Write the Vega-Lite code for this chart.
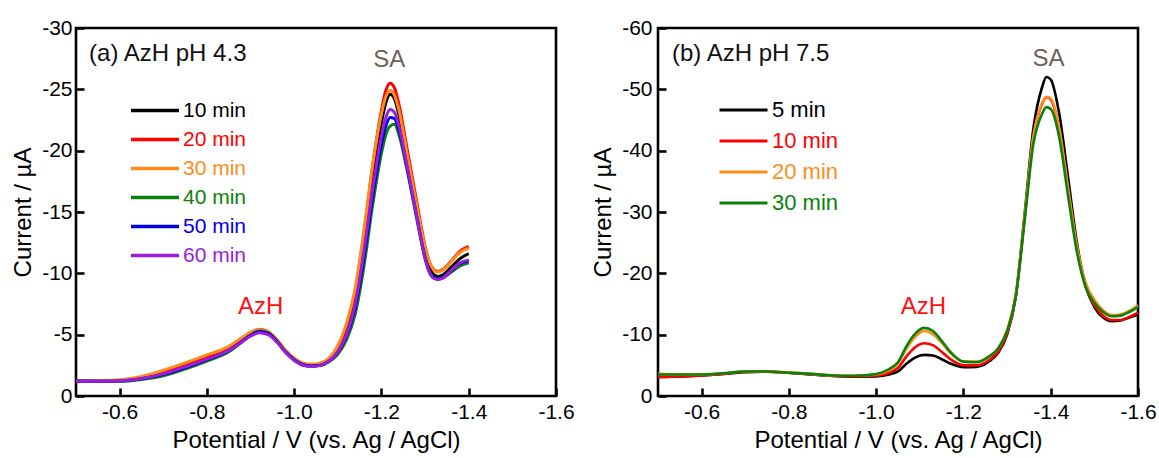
{
"$schema": "https://vega.github.io/schema/vega-lite/v6.json",
"padding": {"left": 10, "top": 15, "right": 5, "bottom": 5},
"spacing": 14,
"datasets": {
"a": [
{"t":"10 min","V":-0.50,"I":-1.22},{"t":"10 min","V":-0.55,"I":-1.22},{"t":"10 min","V":-0.60,"I":-1.25},{"t":"10 min","V":-0.65,"I":-1.45},{"t":"10 min","V":-0.70,"I":-1.85},{"t":"10 min","V":-0.75,"I":-2.45},{"t":"10 min","V":-0.80,"I":-3.05},{"t":"10 min","V":-0.85,"I":-3.8},{"t":"10 min","V":-0.88,"I":-4.55},{"t":"10 min","V":-0.90,"I":-5.05},{"t":"10 min","V":-0.92,"I":-5.35},{"t":"10 min","V":-0.94,"I":-5.15},{"t":"10 min","V":-0.96,"I":-4.5},{"t":"10 min","V":-0.98,"I":-3.65},{"t":"10 min","V":-1.00,"I":-3.0},{"t":"10 min","V":-1.02,"I":-2.6},{"t":"10 min","V":-1.04,"I":-2.5},{"t":"10 min","V":-1.06,"I":-2.6},{"t":"10 min","V":-1.08,"I":-2.95},{"t":"10 min","V":-1.10,"I":-3.8},{"t":"10 min","V":-1.12,"I":-5.4},{"t":"10 min","V":-1.14,"I":-8.0},{"t":"10 min","V":-1.16,"I":-12.5},{"t":"10 min","V":-1.18,"I":-17.8},{"t":"10 min","V":-1.20,"I":-22.3},{"t":"10 min","V":-1.21,"I":-23.9},{"t":"10 min","V":-1.22,"I":-24.6},{"t":"10 min","V":-1.23,"I":-24.2},{"t":"10 min","V":-1.24,"I":-22.9},{"t":"10 min","V":-1.26,"I":-19.0},{"t":"10 min","V":-1.28,"I":-15.2},{"t":"10 min","V":-1.30,"I":-11.6},{"t":"10 min","V":-1.31,"I":-10.4},{"t":"10 min","V":-1.32,"I":-9.9},{"t":"10 min","V":-1.33,"I":-9.75},{"t":"10 min","V":-1.34,"I":-9.85},{"t":"10 min","V":-1.36,"I":-10.5},{"t":"10 min","V":-1.38,"I":-11.2},{"t":"10 min","V":-1.40,"I":-11.6},
{"t":"20 min","V":-0.50,"I":-1.22},{"t":"20 min","V":-0.55,"I":-1.23},{"t":"20 min","V":-0.60,"I":-1.27},{"t":"20 min","V":-0.65,"I":-1.5},{"t":"20 min","V":-0.70,"I":-1.95},{"t":"20 min","V":-0.75,"I":-2.55},{"t":"20 min","V":-0.80,"I":-3.15},{"t":"20 min","V":-0.85,"I":-3.9},{"t":"20 min","V":-0.88,"I":-4.65},{"t":"20 min","V":-0.90,"I":-5.15},{"t":"20 min","V":-0.92,"I":-5.45},{"t":"20 min","V":-0.94,"I":-5.25},{"t":"20 min","V":-0.96,"I":-4.6},{"t":"20 min","V":-0.98,"I":-3.7},{"t":"20 min","V":-1.00,"I":-3.05},{"t":"20 min","V":-1.02,"I":-2.65},{"t":"20 min","V":-1.04,"I":-2.55},{"t":"20 min","V":-1.06,"I":-2.65},{"t":"20 min","V":-1.08,"I":-3.05},{"t":"20 min","V":-1.10,"I":-4.0},{"t":"20 min","V":-1.12,"I":-5.8},{"t":"20 min","V":-1.14,"I":-8.6},{"t":"20 min","V":-1.16,"I":-13.3},{"t":"20 min","V":-1.18,"I":-18.8},{"t":"20 min","V":-1.20,"I":-23.3},{"t":"20 min","V":-1.21,"I":-24.9},{"t":"20 min","V":-1.22,"I":-25.5},{"t":"20 min","V":-1.23,"I":-25.1},{"t":"20 min","V":-1.24,"I":-23.8},{"t":"20 min","V":-1.26,"I":-19.9},{"t":"20 min","V":-1.28,"I":-16.0},{"t":"20 min","V":-1.30,"I":-12.2},{"t":"20 min","V":-1.31,"I":-10.9},{"t":"20 min","V":-1.32,"I":-10.3},{"t":"20 min","V":-1.33,"I":-10.15},{"t":"20 min","V":-1.34,"I":-10.3},{"t":"20 min","V":-1.36,"I":-11.0},{"t":"20 min","V":-1.38,"I":-11.8},{"t":"20 min","V":-1.40,"I":-12.2},
{"t":"30 min","V":-0.50,"I":-1.22},{"t":"30 min","V":-0.55,"I":-1.25},{"t":"30 min","V":-0.60,"I":-1.32},{"t":"30 min","V":-0.65,"I":-1.6},{"t":"30 min","V":-0.70,"I":-2.1},{"t":"30 min","V":-0.75,"I":-2.7},{"t":"30 min","V":-0.80,"I":-3.35},{"t":"30 min","V":-0.85,"I":-4.05},{"t":"30 min","V":-0.88,"I":-4.75},{"t":"30 min","V":-0.90,"I":-5.2},{"t":"30 min","V":-0.92,"I":-5.42},{"t":"30 min","V":-0.94,"I":-5.22},{"t":"30 min","V":-0.96,"I":-4.6},{"t":"30 min","V":-0.98,"I":-3.75},{"t":"30 min","V":-1.00,"I":-3.1},{"t":"30 min","V":-1.02,"I":-2.7},{"t":"30 min","V":-1.04,"I":-2.6},{"t":"30 min","V":-1.06,"I":-2.7},{"t":"30 min","V":-1.08,"I":-3.1},{"t":"30 min","V":-1.10,"I":-4.1},{"t":"30 min","V":-1.12,"I":-5.9},{"t":"30 min","V":-1.14,"I":-8.8},{"t":"30 min","V":-1.16,"I":-13.5},{"t":"30 min","V":-1.18,"I":-18.9},{"t":"30 min","V":-1.20,"I":-23.0},{"t":"30 min","V":-1.21,"I":-24.4},{"t":"30 min","V":-1.22,"I":-24.9},{"t":"30 min","V":-1.23,"I":-24.5},{"t":"30 min","V":-1.24,"I":-23.3},{"t":"30 min","V":-1.26,"I":-19.5},{"t":"30 min","V":-1.28,"I":-15.7},{"t":"30 min","V":-1.30,"I":-12.1},{"t":"30 min","V":-1.31,"I":-10.9},{"t":"30 min","V":-1.32,"I":-10.3},{"t":"30 min","V":-1.33,"I":-10.1},{"t":"30 min","V":-1.34,"I":-10.25},{"t":"30 min","V":-1.36,"I":-10.95},{"t":"30 min","V":-1.38,"I":-11.7},{"t":"30 min","V":-1.40,"I":-12.05},
{"t":"40 min","V":-0.50,"I":-1.2},{"t":"40 min","V":-0.55,"I":-1.2},{"t":"40 min","V":-0.60,"I":-1.2},{"t":"40 min","V":-0.65,"I":-1.35},{"t":"40 min","V":-0.70,"I":-1.65},{"t":"40 min","V":-0.75,"I":-2.2},{"t":"40 min","V":-0.80,"I":-2.85},{"t":"40 min","V":-0.85,"I":-3.6},{"t":"40 min","V":-0.88,"I":-4.4},{"t":"40 min","V":-0.90,"I":-4.95},{"t":"40 min","V":-0.92,"I":-5.3},{"t":"40 min","V":-0.94,"I":-5.15},{"t":"40 min","V":-0.96,"I":-4.5},{"t":"40 min","V":-0.98,"I":-3.6},{"t":"40 min","V":-1.00,"I":-2.95},{"t":"40 min","V":-1.02,"I":-2.55},{"t":"40 min","V":-1.04,"I":-2.45},{"t":"40 min","V":-1.06,"I":-2.5},{"t":"40 min","V":-1.08,"I":-2.8},{"t":"40 min","V":-1.10,"I":-3.4},{"t":"40 min","V":-1.12,"I":-4.6},{"t":"40 min","V":-1.14,"I":-6.7},{"t":"40 min","V":-1.16,"I":-10.6},{"t":"40 min","V":-1.18,"I":-15.6},{"t":"40 min","V":-1.20,"I":-19.8},{"t":"40 min","V":-1.21,"I":-21.3},{"t":"40 min","V":-1.22,"I":-22.0},{"t":"40 min","V":-1.23,"I":-22.15},{"t":"40 min","V":-1.24,"I":-21.3},{"t":"40 min","V":-1.26,"I":-18.2},{"t":"40 min","V":-1.28,"I":-14.6},{"t":"40 min","V":-1.30,"I":-11.2},{"t":"40 min","V":-1.31,"I":-10.1},{"t":"40 min","V":-1.32,"I":-9.6},{"t":"40 min","V":-1.33,"I":-9.5},{"t":"40 min","V":-1.34,"I":-9.6},{"t":"40 min","V":-1.36,"I":-10.1},{"t":"40 min","V":-1.38,"I":-10.6},{"t":"40 min","V":-1.40,"I":-10.85},
{"t":"50 min","V":-0.50,"I":-1.2},{"t":"50 min","V":-0.55,"I":-1.2},{"t":"50 min","V":-0.60,"I":-1.22},{"t":"50 min","V":-0.65,"I":-1.4},{"t":"50 min","V":-0.70,"I":-1.75},{"t":"50 min","V":-0.75,"I":-2.3},{"t":"50 min","V":-0.80,"I":-2.95},{"t":"50 min","V":-0.85,"I":-3.7},{"t":"50 min","V":-0.88,"I":-4.45},{"t":"50 min","V":-0.90,"I":-4.95},{"t":"50 min","V":-0.92,"I":-5.25},{"t":"50 min","V":-0.94,"I":-5.1},{"t":"50 min","V":-0.96,"I":-4.45},{"t":"50 min","V":-0.98,"I":-3.6},{"t":"50 min","V":-1.00,"I":-2.95},{"t":"50 min","V":-1.02,"I":-2.55},{"t":"50 min","V":-1.04,"I":-2.45},{"t":"50 min","V":-1.06,"I":-2.5},{"t":"50 min","V":-1.08,"I":-2.85},{"t":"50 min","V":-1.10,"I":-3.55},{"t":"50 min","V":-1.12,"I":-4.9},{"t":"50 min","V":-1.14,"I":-7.2},{"t":"50 min","V":-1.16,"I":-11.3},{"t":"50 min","V":-1.18,"I":-16.3},{"t":"50 min","V":-1.20,"I":-20.5},{"t":"50 min","V":-1.21,"I":-22.0},{"t":"50 min","V":-1.22,"I":-22.7},{"t":"50 min","V":-1.23,"I":-22.6},{"t":"50 min","V":-1.24,"I":-21.7},{"t":"50 min","V":-1.26,"I":-18.4},{"t":"50 min","V":-1.28,"I":-14.8},{"t":"50 min","V":-1.30,"I":-11.3},{"t":"50 min","V":-1.31,"I":-10.15},{"t":"50 min","V":-1.32,"I":-9.65},{"t":"50 min","V":-1.33,"I":-9.55},{"t":"50 min","V":-1.34,"I":-9.65},{"t":"50 min","V":-1.36,"I":-10.2},{"t":"50 min","V":-1.38,"I":-10.8},{"t":"50 min","V":-1.40,"I":-11.0},
{"t":"60 min","V":-0.50,"I":-1.2},{"t":"60 min","V":-0.55,"I":-1.2},{"t":"60 min","V":-0.60,"I":-1.23},{"t":"60 min","V":-0.65,"I":-1.42},{"t":"60 min","V":-0.70,"I":-1.8},{"t":"60 min","V":-0.75,"I":-2.38},{"t":"60 min","V":-0.80,"I":-3.0},{"t":"60 min","V":-0.85,"I":-3.72},{"t":"60 min","V":-0.88,"I":-4.4},{"t":"60 min","V":-0.90,"I":-4.88},{"t":"60 min","V":-0.92,"I":-5.15},{"t":"60 min","V":-0.94,"I":-5.0},{"t":"60 min","V":-0.96,"I":-4.4},{"t":"60 min","V":-0.98,"I":-3.55},{"t":"60 min","V":-1.00,"I":-2.9},{"t":"60 min","V":-1.02,"I":-2.5},{"t":"60 min","V":-1.04,"I":-2.4},{"t":"60 min","V":-1.06,"I":-2.5},{"t":"60 min","V":-1.08,"I":-2.85},{"t":"60 min","V":-1.10,"I":-3.6},{"t":"60 min","V":-1.12,"I":-5.0},{"t":"60 min","V":-1.14,"I":-7.5},{"t":"60 min","V":-1.16,"I":-11.8},{"t":"60 min","V":-1.18,"I":-16.9},{"t":"60 min","V":-1.20,"I":-21.2},{"t":"60 min","V":-1.21,"I":-22.7},{"t":"60 min","V":-1.22,"I":-23.35},{"t":"60 min","V":-1.23,"I":-23.1},{"t":"60 min","V":-1.24,"I":-22.0},{"t":"60 min","V":-1.26,"I":-18.5},{"t":"60 min","V":-1.28,"I":-14.8},{"t":"60 min","V":-1.30,"I":-11.2},{"t":"60 min","V":-1.31,"I":-10.05},{"t":"60 min","V":-1.32,"I":-9.6},{"t":"60 min","V":-1.33,"I":-9.5},{"t":"60 min","V":-1.34,"I":-9.6},{"t":"60 min","V":-1.36,"I":-10.25},{"t":"60 min","V":-1.38,"I":-10.85},{"t":"60 min","V":-1.40,"I":-11.1}
],
"b": [
{"t":"5 min","V":-0.50,"I":-3.1},{"t":"5 min","V":-0.55,"I":-3.2},{"t":"5 min","V":-0.60,"I":-3.35},{"t":"5 min","V":-0.65,"I":-3.6},{"t":"5 min","V":-0.70,"I":-3.9},{"t":"5 min","V":-0.75,"I":-3.95},{"t":"5 min","V":-0.80,"I":-3.8},{"t":"5 min","V":-0.85,"I":-3.5},{"t":"5 min","V":-0.90,"I":-3.25},{"t":"5 min","V":-0.95,"I":-3.15},{"t":"5 min","V":-1.00,"I":-3.2},{"t":"5 min","V":-1.03,"I":-3.5},{"t":"5 min","V":-1.05,"I":-4.0},{"t":"5 min","V":-1.07,"I":-5.3},{"t":"5 min","V":-1.09,"I":-6.3},{"t":"5 min","V":-1.11,"I":-6.7},{"t":"5 min","V":-1.13,"I":-6.6},{"t":"5 min","V":-1.15,"I":-6.0},{"t":"5 min","V":-1.17,"I":-5.3},{"t":"5 min","V":-1.20,"I":-4.7},{"t":"5 min","V":-1.23,"I":-4.75},{"t":"5 min","V":-1.26,"I":-5.7},{"t":"5 min","V":-1.28,"I":-7.1},{"t":"5 min","V":-1.30,"I":-10.0},{"t":"5 min","V":-1.32,"I":-16.3},{"t":"5 min","V":-1.34,"I":-29.5},{"t":"5 min","V":-1.36,"I":-43.5},{"t":"5 min","V":-1.38,"I":-50.3},{"t":"5 min","V":-1.39,"I":-52.0},{"t":"5 min","V":-1.40,"I":-51.6},{"t":"5 min","V":-1.42,"I":-45.8},{"t":"5 min","V":-1.44,"I":-35.5},{"t":"5 min","V":-1.46,"I":-25.0},{"t":"5 min","V":-1.48,"I":-18.0},{"t":"5 min","V":-1.50,"I":-14.5},{"t":"5 min","V":-1.52,"I":-12.8},{"t":"5 min","V":-1.54,"I":-12.2},{"t":"5 min","V":-1.56,"I":-12.3},{"t":"5 min","V":-1.58,"I":-12.8},{"t":"5 min","V":-1.60,"I":-13.3},
{"t":"10 min","V":-0.50,"I":-3.1},{"t":"10 min","V":-0.55,"I":-3.2},{"t":"10 min","V":-0.60,"I":-3.35},{"t":"10 min","V":-0.65,"I":-3.6},{"t":"10 min","V":-0.70,"I":-3.95},{"t":"10 min","V":-0.75,"I":-3.95},{"t":"10 min","V":-0.80,"I":-3.8},{"t":"10 min","V":-0.85,"I":-3.55},{"t":"10 min","V":-0.90,"I":-3.3},{"t":"10 min","V":-0.95,"I":-3.2},{"t":"10 min","V":-1.00,"I":-3.3},{"t":"10 min","V":-1.03,"I":-3.8},{"t":"10 min","V":-1.05,"I":-4.6},{"t":"10 min","V":-1.07,"I":-6.5},{"t":"10 min","V":-1.09,"I":-8.0},{"t":"10 min","V":-1.11,"I":-8.6},{"t":"10 min","V":-1.13,"I":-8.3},{"t":"10 min","V":-1.15,"I":-7.2},{"t":"10 min","V":-1.17,"I":-6.0},{"t":"10 min","V":-1.20,"I":-5.0},{"t":"10 min","V":-1.23,"I":-5.0},{"t":"10 min","V":-1.26,"I":-5.9},{"t":"10 min","V":-1.28,"I":-7.3},{"t":"10 min","V":-1.30,"I":-10.2},{"t":"10 min","V":-1.32,"I":-16.2},{"t":"10 min","V":-1.34,"I":-28.8},{"t":"10 min","V":-1.36,"I":-42.0},{"t":"10 min","V":-1.38,"I":-47.6},{"t":"10 min","V":-1.39,"I":-48.7},{"t":"10 min","V":-1.40,"I":-48.3},{"t":"10 min","V":-1.42,"I":-43.2},{"t":"10 min","V":-1.44,"I":-33.5},{"t":"10 min","V":-1.46,"I":-24.0},{"t":"10 min","V":-1.48,"I":-17.8},{"t":"10 min","V":-1.50,"I":-14.8},{"t":"10 min","V":-1.52,"I":-13.1},{"t":"10 min","V":-1.54,"I":-12.4},{"t":"10 min","V":-1.56,"I":-12.4},{"t":"10 min","V":-1.58,"I":-12.9},{"t":"10 min","V":-1.60,"I":-13.6},
{"t":"20 min","V":-0.50,"I":-3.6},{"t":"20 min","V":-0.55,"I":-3.5},{"t":"20 min","V":-0.60,"I":-3.5},{"t":"20 min","V":-0.65,"I":-3.7},{"t":"20 min","V":-0.70,"I":-4.0},{"t":"20 min","V":-0.75,"I":-4.0},{"t":"20 min","V":-0.80,"I":-3.85},{"t":"20 min","V":-0.85,"I":-3.6},{"t":"20 min","V":-0.90,"I":-3.35},{"t":"20 min","V":-0.95,"I":-3.3},{"t":"20 min","V":-1.00,"I":-3.5},{"t":"20 min","V":-1.03,"I":-4.2},{"t":"20 min","V":-1.05,"I":-5.3},{"t":"20 min","V":-1.07,"I":-7.8},{"t":"20 min","V":-1.09,"I":-9.7},{"t":"20 min","V":-1.11,"I":-10.6},{"t":"20 min","V":-1.13,"I":-10.1},{"t":"20 min","V":-1.15,"I":-8.7},{"t":"20 min","V":-1.17,"I":-7.0},{"t":"20 min","V":-1.20,"I":-5.6},{"t":"20 min","V":-1.23,"I":-5.6},{"t":"20 min","V":-1.26,"I":-6.5},{"t":"20 min","V":-1.28,"I":-7.8},{"t":"20 min","V":-1.30,"I":-10.7},{"t":"20 min","V":-1.32,"I":-16.6},{"t":"20 min","V":-1.34,"I":-29.2},{"t":"20 min","V":-1.36,"I":-42.3},{"t":"20 min","V":-1.38,"I":-47.7},{"t":"20 min","V":-1.39,"I":-48.8},{"t":"20 min","V":-1.40,"I":-48.5},{"t":"20 min","V":-1.42,"I":-43.5},{"t":"20 min","V":-1.44,"I":-33.8},{"t":"20 min","V":-1.46,"I":-24.5},{"t":"20 min","V":-1.48,"I":-18.5},{"t":"20 min","V":-1.50,"I":-15.7},{"t":"20 min","V":-1.52,"I":-14.0},{"t":"20 min","V":-1.54,"I":-13.2},{"t":"20 min","V":-1.56,"I":-13.3},{"t":"20 min","V":-1.58,"I":-13.9},{"t":"20 min","V":-1.60,"I":-14.8},
{"t":"30 min","V":-0.50,"I":-3.5},{"t":"30 min","V":-0.55,"I":-3.5},{"t":"30 min","V":-0.60,"I":-3.5},{"t":"30 min","V":-0.65,"I":-3.7},{"t":"30 min","V":-0.70,"I":-4.0},{"t":"30 min","V":-0.75,"I":-4.0},{"t":"30 min","V":-0.80,"I":-3.8},{"t":"30 min","V":-0.85,"I":-3.6},{"t":"30 min","V":-0.90,"I":-3.35},{"t":"30 min","V":-0.95,"I":-3.3},{"t":"30 min","V":-1.00,"I":-3.6},{"t":"30 min","V":-1.03,"I":-4.4},{"t":"30 min","V":-1.05,"I":-5.5},{"t":"30 min","V":-1.07,"I":-8.2},{"t":"30 min","V":-1.09,"I":-10.2},{"t":"30 min","V":-1.11,"I":-11.1},{"t":"30 min","V":-1.13,"I":-10.6},{"t":"30 min","V":-1.15,"I":-9.0},{"t":"30 min","V":-1.17,"I":-7.2},{"t":"30 min","V":-1.20,"I":-5.6},{"t":"30 min","V":-1.23,"I":-5.5},{"t":"30 min","V":-1.26,"I":-6.5},{"t":"30 min","V":-1.28,"I":-7.8},{"t":"30 min","V":-1.30,"I":-10.6},{"t":"30 min","V":-1.32,"I":-16.3},{"t":"30 min","V":-1.34,"I":-28.5},{"t":"30 min","V":-1.36,"I":-41.0},{"t":"30 min","V":-1.38,"I":-46.0},{"t":"30 min","V":-1.39,"I":-47.1},{"t":"30 min","V":-1.40,"I":-46.8},{"t":"30 min","V":-1.42,"I":-42.0},{"t":"30 min","V":-1.44,"I":-32.5},{"t":"30 min","V":-1.46,"I":-23.5},{"t":"30 min","V":-1.48,"I":-17.8},{"t":"30 min","V":-1.50,"I":-15.2},{"t":"30 min","V":-1.52,"I":-13.7},{"t":"30 min","V":-1.54,"I":-13.0},{"t":"30 min","V":-1.56,"I":-13.1},{"t":"30 min","V":-1.58,"I":-13.7},{"t":"30 min","V":-1.60,"I":-14.5}
]
},
"hconcat": [
{
"width": 480, "height": 368,
"layer": [
{
"data": {"name": "a"},
"mark": {"type": "line", "interpolate": "monotone", "strokeWidth": 3},
"encoding": {
"x": {"field": "V", "type": "quantitative", "scale": {"domain": [-0.5, -1.6], "nice": false, "zero": false},
"axis": {"title": "Potential / V (vs. Ag / AgCl)", "values": [-0.6, -0.8, -1.0, -1.2, -1.4, -1.6], "labelExpr": "'-' + format(-datum.value, '.1f')", "labelPadding": 13, "titlePadding": 6}},
"y": {"field": "I", "type": "quantitative", "scale": {"domain": [0, -30], "nice": false, "zero": false},
"axis": {"title": "Current / µA", "values": [0, -5, -10, -15, -20, -25, -30], "labelExpr": "datum.value == 0 ? '0' : '-' + format(-datum.value, 'd')", "labelPadding": 12, "titlePadding": 6}},
"color": {"field": "t", "type": "nominal",
"scale": {"domain": ["10 min", "20 min", "30 min", "40 min", "50 min", "60 min"], "range": ["#000000", "#ff0000", "#ff8c1a", "#0a820a", "#0000e6", "#9b1ddb"]},
"legend": {"orient": "none", "legendX": 82, "legendY": 72, "title": null, "padding": 0,
"symbolType": "M-5.357,0H1.5", "symbolSize": 196, "symbolStrokeWidth": 3.5, "symbolFillColor": "transparent",
"labelFontSize": 21, "labelOffset": 4, "rowPadding": 7,
"encode": {"labels": {"update": {"fill": {"signal": "datum.value == '10 min' ? '#000000' : datum.value == '20 min' ? '#ff0000' : datum.value == '30 min' ? '#ff8c1a' : datum.value == '40 min' ? '#0a820a' : datum.value == '50 min' ? '#0000e6' : '#9b1ddb'"}}}}}
}
}
},
{"data": {"values": [{}]},
"mark": {"type": "text", "align": "left", "baseline": "middle", "fontSize": 24, "color": "#111111"},
"encoding": {"x": {"datum": -0.53}, "y": {"datum": -27.9}, "text": {"value": "(a) AzH pH 4.3"}}},
{"data": {"values": [{}]},
"mark": {"type": "text", "align": "center", "baseline": "middle", "fontSize": 24, "color": "#6e5f5a"},
"encoding": {"x": {"datum": -1.218}, "y": {"datum": -27.36}, "text": {"value": "SA"}}},
{"data": {"values": [{}]},
"mark": {"type": "text", "align": "center", "baseline": "middle", "fontSize": 24, "color": "#ff1010"},
"encoding": {"x": {"datum": -0.923}, "y": {"datum": -7.25}, "text": {"value": "AzH"}}}
]
},
{
"width": 480, "height": 368,
"layer": [
{
"data": {"name": "b"},
"mark": {"type": "line", "interpolate": "monotone", "strokeWidth": 2.6},
"encoding": {
"x": {"field": "V", "type": "quantitative", "scale": {"domain": [-0.5, -1.6], "nice": false, "zero": false},
"axis": {"title": "Potential / V (vs. Ag / AgCl)", "values": [-0.6, -0.8, -1.0, -1.2, -1.4, -1.6], "labelExpr": "'-' + format(-datum.value, '.1f')", "labelPadding": 13, "titlePadding": 6}},
"y": {"field": "I", "type": "quantitative", "scale": {"domain": [0, -60], "nice": false, "zero": false},
"axis": {"title": "Current / µA", "values": [0, -10, -20, -30, -40, -50, -60], "labelExpr": "datum.value == 0 ? '0' : '-' + format(-datum.value, 'd')", "labelPadding": 14, "titlePadding": 6}},
"color": {"field": "t", "type": "nominal",
"scale": {"domain": ["5 min", "10 min", "20 min", "30 min"], "range": ["#000000", "#ff0000", "#ff8c1a", "#0a820a"]},
"legend": {"orient": "none", "legendX": 88, "legendY": 71, "title": null, "padding": 0,
"symbolType": "M-5.357,0H1.5", "symbolSize": 196, "symbolStrokeWidth": 3, "symbolFillColor": "transparent",
"labelFontSize": 22, "labelOffset": 4, "rowPadding": 9,
"encode": {"labels": {"update": {"fill": {"signal": "datum.value == '5 min' ? '#000000' : datum.value == '10 min' ? '#ff0000' : datum.value == '20 min' ? '#ff8c1a' : '#0a820a'"}}}}}
}
}
},
{"data": {"values": [{}]},
"mark": {"type": "text", "align": "left", "baseline": "middle", "fontSize": 24, "color": "#111111"},
"encoding": {"x": {"datum": -0.532}, "y": {"datum": -55.8}, "text": {"value": "(b) AzH pH 7.5"}}},
{"data": {"values": [{}]},
"mark": {"type": "text", "align": "center", "baseline": "middle", "fontSize": 24, "color": "#6e5f5a"},
"encoding": {"x": {"datum": -1.395}, "y": {"datum": -54.9}, "text": {"value": "SA"}}},
{"data": {"values": [{}]},
"mark": {"type": "text", "align": "center", "baseline": "middle", "fontSize": 24, "color": "#ff1010"},
"encoding": {"x": {"datum": -1.108}, "y": {"datum": -14.5}, "text": {"value": "AzH"}}}
]
}
],
"resolve": {"scale": {"color": "independent", "x": "independent", "y": "independent"}, "legend": {"color": "independent"}},
"config": {
"font": "Liberation Sans",
"view": {"stroke": "#000000", "strokeWidth": 2.6},
"axis": {"grid": false, "domain": false, "ticks": true, "tickColor": "#000000", "tickWidth": 2.6, "tickSize": -8,
"labelFontSize": 21, "labelColor": "#000000", "labelFont": "Liberation Sans", "labelFlush": false, "labelOverlap": false,
"titleFontSize": 24, "titleFontWeight": "normal", "titleColor": "#000000", "titleFont": "Liberation Sans"},
"legend": {"labelFont": "Liberation Sans"}
}
}
